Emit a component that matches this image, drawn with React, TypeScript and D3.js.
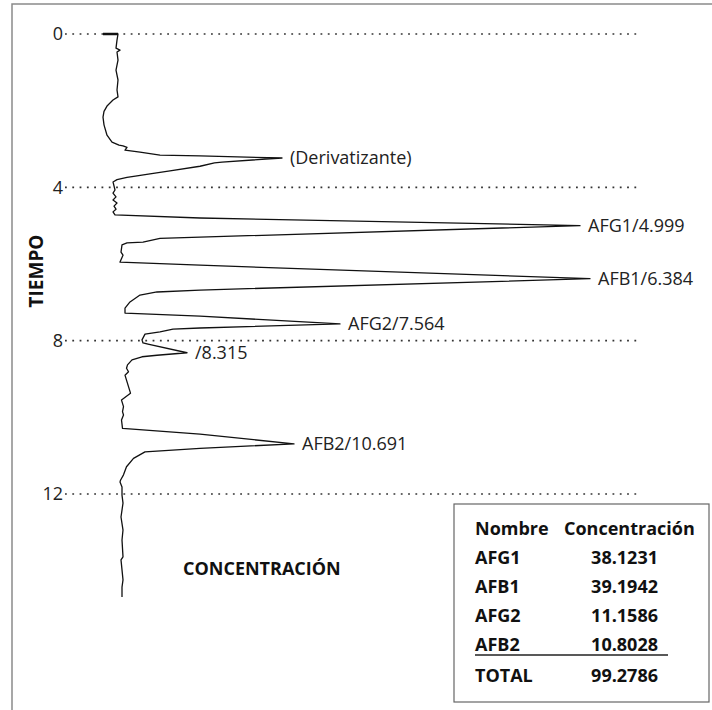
import React, { useMemo } from 'react';
import * as d3 from 'd3';

// time axis (minutes) and signal (arbitrary units, 0 = baseline)
const timeTicks = [0, 4, 8, 12];

// detector trace, [time, signal]
const trace: [number, number][] = [
  [0, -2.8], [0, 0.2],
  [0.16, 0.0], [0.37, -0.2], [0.42, 0.6], [0.47, 0.0], [0.68, 0.2], [0.94, -0.2],
  [1.2, 0.2], [1.46, 0.0], [1.64, 0.2],
  [1.72, -0.8], [1.88, -2.0], [2.02, -2.6], [2.17, -2.8], [2.37, -2.6], [2.64, -2.0],
  [2.82, -1.0], [2.9, 0.4], [2.92, 1.2], [2.96, 2.0], [3.03, 1.6], [3.08, 4.6],
  [3.16, 8.6], [3.18, 16.6], [3.235, 33.0],
  [3.34, 21.0], [3.36, 19.5], [3.45, 16.6], [3.57, 10.6], [3.65, 6.6], [3.7, 4.0],
  [3.74, 2.0], [3.8, 0.0], [3.86, -0.8],
  [4.07, -0.4], [4.15, -0.8], [4.25, -0.2], [4.33, -0.8], [4.41, 0.0], [4.49, -0.6],
  [4.57, -0.2], [4.64, -0.8], [4.72, -0.4],
  [4.8, 16.6], [4.999, 92.6],
  [5.3, 16.6], [5.33, 8.6], [5.43, 5.2], [5.45, 2.0], [5.5, 1.0], [5.69, 0.8],
  [5.77, 1.2], [5.95, 0.6],
  [6.03, 16.6], [6.384, 94.6],
  [6.68, 16.6], [6.73, 8.0], [6.81, 4.6], [6.99, 2.6], [7.15, 1.6], [7.28, 1.6],
  [7.36, 16.6], [7.564, 44.6],
  [7.67, 16.6], [7.7, 11.2], [7.77, 8.6], [7.83, 5.6], [7.98, 5.0], [8.06, 5.2],
  [8.09, 6.2], [8.315, 14.0],
  [8.38, 8.0], [8.42, 5.0], [8.5, 3.0], [8.63, 2.1], [8.72, 1.9], [8.81, 2.3],
  [8.9, 1.6], [9.03, 1.9], [9.2, 2.3], [9.37, 2.7], [9.55, 0.9], [9.72, 1.3],
  [9.85, 1.1], [9.94, 1.3], [10.07, 0.9], [10.29, 1.1],
  [10.44, 16.6], [10.691, 35.4],
  [10.81, 16.6], [10.9, 5.6], [11.07, 3.3], [11.29, 1.9], [11.5, 1.3], [11.64, 0.7],
  [11.69, 0.6], [11.82, 1.0], [12.03, 1.0], [12.24, 1.2], [12.6, 0.8], [12.94, 1.2],
  [13.2, 1.0], [13.64, 1.2], [13.72, 0.8], [13.98, 1.0], [14.24, 1.2], [14.43, 1.0],
  [14.69, 1.0],
];

const peakLabels = ['(Derivatizante)', 'AFG1/4.999', 'AFB1/6.384', 'AFG2/7.564', '/8.315', 'AFB2/10.691'];
const peakTimes = [3.235, 4.999, 6.384, 7.564, 8.315, 10.691];
const peakHeights = [33.0, 92.6, 94.6, 44.6, 14.0, 35.4];

const compoundNames = ['AFG1', 'AFB1', 'AFG2', 'AFB2'];
const concentrations = [38.1231, 39.1942, 11.1586, 10.8028];
const totalConcentration = 99.2786;

const W = 712;
const H = 710;
const FONT = '"Open Sans", "DejaVu Sans", sans-serif';

export default function App() {
  const y = useMemo(() => d3.scaleLinear().domain([0, 12]).range([34, 494]), []);
  const x = useMemo(() => d3.scaleLinear().domain([0, 100]).range([117, 617]), []);

  const path = useMemo(
    () =>
      d3
        .line<[number, number]>()
        .x(d => x(d[1]))
        .y(d => y(d[0]))
        .curve(d3.curveLinear)(trace) || '',
    [x, y]
  );

  const rowY = (i: number) => 535 + i * 29;

  return (
    <svg
      width={W}
      height={H}
      style={{ position: 'absolute', left: 0, top: 0, background: '#fff' }}
      fontFamily={FONT}
    >
      {/* page frame */}
      <path d={`M12,${H} V4 H${W}`} fill="none" stroke="#8a8a8a" strokeWidth={1.5} />

      {/* time grid */}
      {timeTicks.map(t => (
        <g key={t}>
          <line
            x1={65}
            x2={638}
            y1={y(t)}
            y2={y(t)}
            stroke="#333"
            strokeWidth={1.6}
            strokeDasharray="1.8,5.5"
          />
          <text x={63} y={y(t)} dy="0.36em" textAnchor="end" fontSize={18} fill="#222">
            {t}
          </text>
        </g>
      ))}

      <text
        transform={`translate(43,271) rotate(-90)`}
        textAnchor="middle"
        fontSize={19}
        fontWeight={700}
        fill="#111"
      >
        TIEMPO
      </text>

      {/* trace */}
      <path d={path} fill="none" stroke="#111" strokeWidth={1.3} strokeLinejoin="round" />
      <line x1={x(-2.8)} x2={x(0.2)} y1={y(0)} y2={y(0)} stroke="#111" strokeWidth={2.5} />

      {peakLabels.map((label, i) => (
        <text
          key={label}
          x={x(peakHeights[i]) + 8}
          y={y(peakTimes[i])}
          dy="0.36em"
          fontSize={18}
          fill="#222"
        >
          {label}
        </text>
      ))}

      <text x={183} y={575} fontSize={18} fontWeight={700} fill="#111">
        CONCENTRACIÓN
      </text>

      {/* results table */}
      <rect x={454} y={504} width={255} height={198} fill="#fff" stroke="#666" strokeWidth={1.2} />
      <g fontSize={18} fontWeight={700} fill="#111">
        <text x={475} y={rowY(0)}>Nombre</text>
        <text x={564} y={rowY(0)}>Concentración</text>
        {compoundNames.map((n, i) => (
          <g key={n}>
            <text x={475} y={rowY(i + 1)}>{n}</text>
            <text x={658} y={rowY(i + 1)} textAnchor="end">
              {concentrations[i].toFixed(4)}
            </text>
          </g>
        ))}
        <line x1={475} x2={668} y1={655} y2={655} stroke="#222" strokeWidth={1.5} />
        <text x={475} y={682}>TOTAL</text>
        <text x={658} y={682} textAnchor="end">
          {totalConcentration.toFixed(4)}
        </text>
      </g>
    </svg>
  );
}
